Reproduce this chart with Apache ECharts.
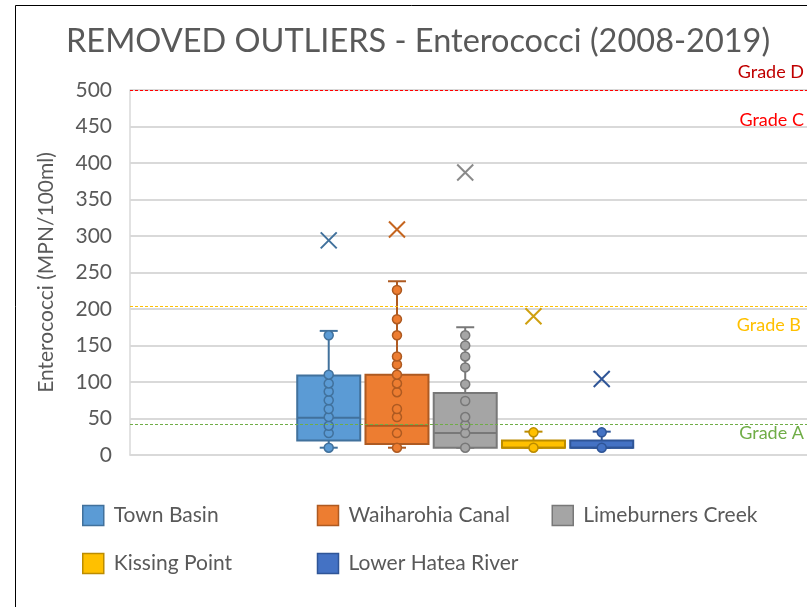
<!DOCTYPE html>
<html>
<head>
<meta charset="utf-8">
<script src="https://cdn.jsdelivr.net/npm/echarts@6/dist/echarts.min.js"></script>
<style>
  html, body { margin: 0; padding: 0; background: #fff; }
  #chart { width: 807px; height: 607px; }
</style>
</head>
<body>
<div id="chart"></div>
<script>
// sites (one box each)
var sites = ['Town Basin', 'Waiharohia Canal', 'Limeburners Creek', 'Kissing Point', 'Lower Hatea River'];

// box stats per site: [min, Q1, median, Q3, max]
var boxStats = [
  [10, 20, 51, 109, 170],
  [10, 15, 40, 110, 238],
  [10, 10, 30, 85, 175],
  [10, 10, 10, 20, 32],
  [10, 10, 10, 20, 32]
];

// inner points per site
var innerPoints = [
  [10, 30, 40, 52, 63, 75, 87, 98, 110, 164],
  [10, 30, 52, 63, 86, 98, 110, 124, 135, 164, 186, 226],
  [10, 30, 41, 52, 74, 97, 120, 135, 150, 164],
  [10, 31],
  [10, 31]
];

// mean markers (x)
var means = [294, 309, 387, 190, 104];

// grade limits
var gradeD = 500;
var gradeB = 203.4;
var gradeA = 42;

var yTicks = { min: 0, max: 500, step: 50 };

var fills   = ['#5B9BD5', '#ED7D31', '#A5A5A5', '#FFC000', '#4472C4'];
var borders = ['#41719C', '#AE5A21', '#787878', '#BC8C00', '#2F5597'];
var meanCol = ['#41719C', '#C5651F', '#8A8A8A', '#CFA010', '#2F5597'];

var font = 'Lato, "Open Sans", sans-serif';
var grey = '#595959';

function boxRenderer(fill, border) {
  return function (params, api) {
    var x = api.value(0);
    var lo = api.coord([x, api.value(1)]);
    var q1 = api.coord([x, api.value(2)]);
    var md = api.coord([x, api.value(3)]);
    var q3 = api.coord([x, api.value(4)]);
    var hi = api.coord([x, api.value(5)]);
    var half = 31.5, cap = 9, cx = lo[0];
    var ln = { stroke: border, lineWidth: 2 };
    return {
      type: 'group',
      children: [
        { type: 'line', shape: { x1: cx, y1: lo[1], x2: cx, y2: q1[1] }, style: ln },
        { type: 'line', shape: { x1: cx, y1: q3[1], x2: cx, y2: hi[1] }, style: ln },
        { type: 'line', shape: { x1: cx - cap, y1: hi[1], x2: cx + cap, y2: hi[1] }, style: ln },
        { type: 'line', shape: { x1: cx - cap, y1: lo[1], x2: cx + cap, y2: lo[1] }, style: ln },
        { type: 'rect', shape: { x: cx - half, y: q3[1], width: half * 2, height: q1[1] - q3[1] },
          style: { fill: fill, stroke: border, lineWidth: 2 } },
        { type: 'line', shape: { x1: cx - half, y1: md[1], x2: cx + half, y2: md[1] }, style: ln }
      ]
    };
  };
}

var series = [];
sites.forEach(function (s, i) {
  series.push({
    name: s, type: 'custom', xAxisIndex: 1, yAxisIndex: 1,
    itemStyle: { color: fills[i] },
    renderItem: boxRenderer(fills[i], borders[i]),
    data: [[i].concat(boxStats[i])],
    z: 2
  });
});
sites.forEach(function (s, i) {
  series.push({
    name: s, type: 'scatter', xAxisIndex: 1, yAxisIndex: 1,
    symbol: 'circle', symbolSize: 9,
    itemStyle: { color: fills[i], borderColor: borders[i], borderWidth: 1.5, opacity: 1 },
    data: innerPoints[i].map(function (v) { return [i, v]; }),
    z: 3
  });
  series.push({
    name: s, type: 'scatter', xAxisIndex: 1, yAxisIndex: 1,
    symbol: 'path://M0,0L10,10M10,0L0,10', symbolSize: 16,
    itemStyle: { color: 'none', borderColor: meanCol[i], borderWidth: 2, opacity: 1 },
    data: [[i, means[i]]],
    z: 3
  });
});

// grade reference lines
series.push({
  name: 'grades', type: 'line', xAxisIndex: 0, yAxisIndex: 0, data: [],
  markLine: {
    silent: true, symbol: 'none',
    label: { fontFamily: font, fontSize: 18 },
    data: [
      { yAxis: gradeD, lineStyle: { color: '#FF0000', type: [3, 2], width: 1 },
        label: { formatter: 'Grade D', position: 'insideEndTop', color: '#C00000', distance: [3, 9] } },
      { yAxis: gradeD, lineStyle: { color: 'rgba(0,0,0,0)', width: 0 },
        label: { formatter: 'Grade C', position: 'insideEndBottom', color: '#FF0000', distance: [3, 21] } },
      { yAxis: gradeB, lineStyle: { color: '#FFC000', type: [3, 2], width: 1.2 },
        label: { formatter: 'Grade B', position: 'insideEndBottom', color: '#FFC000', distance: [6, 10] } },
      { yAxis: gradeA, lineStyle: { color: '#70AD47', type: [3, 2], width: 1 },
        label: { formatter: 'Grade A', position: 'insideEndBottom', color: '#70AD47', distance: [3, 0] } }
    ]
  }
});

var option = {
  animation: false,
  title: {
    text: 'REMOVED OUTLIERS - Enterococci (2008-2019)',
    left: 61, top: 20,
    textStyle: { fontFamily: font, fontSize: 32.5, fontWeight: 'normal', color: grey }
  },
  legend: {
    left: 82, top: 503, width: 720, padding: 0,
    itemWidth: 21, itemHeight: 20, itemGap: 23,
    icon: 'rect',
    formatter: '{a|{name}}',
    textStyle: { rich: { a: { width: 180, fontFamily: font, fontSize: 21, color: grey, lineHeight: 25, padding: [2, 0, 2, 5] } } },
    data: sites.map(function (s, i) {
      return { name: s, itemStyle: { color: fills[i], borderColor: borders[i], borderWidth: 1.5 } };
    })
  },
  graphic: [{
    type: 'rect', shape: { x: 15.5, y: 5.5, width: 900, height: 700 },
    style: { fill: 'none', stroke: '#000', lineWidth: 1 }, silent: true
  }],
  grid: [
    { left: 130, right: -14, top: 90, bottom: 152 },
    { left: 294.6, width: 341.25, top: 90, bottom: 152 }
  ],
  xAxis: [
    { type: 'category', gridIndex: 0, data: [''],
      axisLine: { show: true, lineStyle: { color: '#D9D9D9', width: 1.5 } },
      axisTick: { show: false }, axisLabel: { show: false } },
    { type: 'category', gridIndex: 1, data: sites.map(function (s, i) { return i; }),
      axisLine: { show: false }, axisTick: { show: false }, axisLabel: { show: false } }
  ],
  yAxis: [
    { type: 'value', gridIndex: 0, min: yTicks.min, max: yTicks.max, interval: yTicks.step,
      name: 'Enterococci (MPN/100ml)', nameLocation: 'middle', nameGap: 73,
      nameTextStyle: { fontFamily: font, fontSize: 21, color: grey },
      axisLine: { show: true, lineStyle: { color: '#D9D9D9', width: 1.5 } },
      axisTick: { show: false },
      axisLabel: { margin: 18, fontFamily: font, fontSize: 21, color: grey },
      splitLine: { lineStyle: { color: '#D9D9D9', width: 2 } } },
    { type: 'value', gridIndex: 1, min: yTicks.min, max: yTicks.max, interval: yTicks.step,
      axisLine: { show: false }, axisTick: { show: false }, axisLabel: { show: false },
      splitLine: { show: false } }
  ],
  series: series
};

var myChart = echarts.init(document.getElementById('chart'));
myChart.setOption(option);
</script>
</body>
</html>
